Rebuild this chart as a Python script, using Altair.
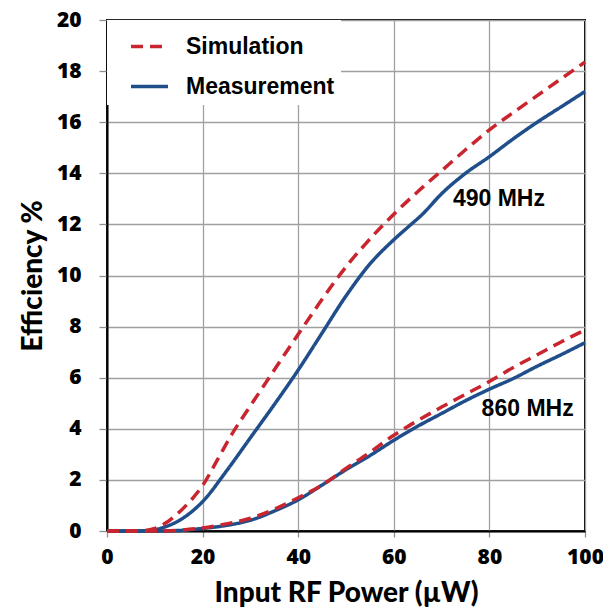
import altair as alt
import pandas as pd

series_names = ["Simulation", "Measurement"]
series_colors = ["#C9252F", "#1F4E8A"]

# 490 MHz, measurement
x_490_meas = [0, 5, 8, 10, 12, 15, 18, 20, 25, 30, 35, 40, 45, 50, 55, 60, 63, 66, 70, 75, 80, 85, 90, 95, 100]
y_490_meas = [0, 0, 0.01, 0.05, 0.15, 0.4, 0.8, 1.15, 2.35, 3.65, 4.95, 6.3, 7.75, 9.2, 10.45, 11.4, 11.9, 12.4, 13.2, 14.0, 14.65, 15.35, 16.0, 16.6, 17.2]

# 490 MHz, simulation
x_490_sim = [0, 5, 8, 10, 12, 15, 18, 20, 23, 26, 30, 34, 37, 40, 44, 48, 51, 54, 57, 60, 65, 70, 75, 80, 85, 90, 95, 100]
y_490_sim = [0, 0, 0.02, 0.1, 0.28, 0.72, 1.3, 1.78, 2.75, 3.75, 4.9, 6.02, 6.87, 7.7, 8.8, 9.85, 10.57, 11.22, 11.83, 12.4, 13.28, 14.1, 14.92, 15.7, 16.38, 17.04, 17.7, 18.35]

# 860 MHz, measurement
x_860_meas = [0, 10, 15, 20, 25, 30, 35, 40, 45, 50, 55, 60, 65, 70, 75, 80, 85, 90, 95, 100]
y_860_meas = [0, 0, 0.02, 0.1, 0.22, 0.42, 0.78, 1.22, 1.8, 2.4, 2.95, 3.55, 4.1, 4.6, 5.1, 5.55, 5.97, 6.45, 6.9, 7.37]

# 860 MHz, simulation
x_860_sim = [0, 10, 15, 20, 25, 30, 35, 40, 45, 50, 55, 60, 65, 70, 75, 80, 85, 90, 95, 100]
y_860_sim = [0, 0, 0.03, 0.12, 0.28, 0.5, 0.85, 1.3, 1.8, 2.45, 3.08, 3.75, 4.32, 4.85, 5.35, 5.85, 6.4, 6.9, 7.4, 7.87]

label_text = ["490 MHz", "860 MHz"]
label_x = [82.0, 88.0]
label_y = [13.0, 4.76]

x_ticks = [0, 20, 40, 60, 80, 100]
y_ticks = [0, 2, 4, 6, 8, 10, 12, 14, 16, 18, 20]

rows = []
for freq, series, xs, ys in [
    ("490", "Measurement", x_490_meas, y_490_meas),
    ("860", "Measurement", x_860_meas, y_860_meas),
    ("490", "Simulation", x_490_sim, y_490_sim),
    ("860", "Simulation", x_860_sim, y_860_sim),
]:
    for a, b in zip(xs, ys):
        rows.append({"x": a, "y": b, "series": series, "key": series + freq})
df = pd.DataFrame(rows)
labels_df = pd.DataFrame({"x": label_x, "y": label_y, "text": label_text})

xscale = alt.Scale(domain=[0, 100], nice=False)
yscale = alt.Scale(domain=[0, 20], nice=False)

label_style = dict(labelFont="Open Sans", labelFontSize=21, labelFontWeight=800, labelColor="black",
                   labelFlush=False,
                   titleFont="Lato", titleFontSize=28, titleFontWeight=900, titleColor="black")

lines = alt.Chart(df).mark_line(strokeWidth=3.5, interpolate="monotone").encode(
    x=alt.X("x:Q", scale=xscale,
            axis=alt.Axis(values=x_ticks, title="Input RF Power (µW)", tickSize=6,
                          labelPadding=9, titlePadding=12, **label_style)),
    y=alt.Y("y:Q", scale=yscale,
            axis=alt.Axis(values=y_ticks, title="Efficiency %", tickSize=8,
                          labelPadding=18, titlePadding=9, **label_style)),
    color=alt.Color("series:N", scale=alt.Scale(domain=series_names, range=series_colors),
                    legend=alt.Legend(title=None)),
    strokeDash=alt.StrokeDash("series:N", scale=alt.Scale(domain=series_names, range=[[12, 7], [1, 0]]),
                              legend=alt.Legend(title=None)),
    detail="key:N",
)

texts = alt.Chart(labels_df).mark_text(
    font="Liberation Sans", fontSize=23, fontWeight="bold", color="black",
    align="center", baseline="middle"
).encode(x=alt.X("x:Q", scale=xscale), y=alt.Y("y:Q", scale=yscale), text="text:N")

chart = alt.layer(lines, texts).properties(
    width=478, height=511,
    padding={"left": 99, "top": 12, "right": 18, "bottom": 80},
    autosize=alt.AutoSizeParams(type="none"),
).configure_view(
    stroke="black", strokeWidth=2
).configure_axis(
    domainColor="black", domainWidth=2,
    gridColor="#A0A0A0", gridWidth=1.3,
    tickColor="#909090", tickWidth=1.3,
).configure_legend(
    orient="none", legendX=0, legendY=0,
    fillColor="white", padding=6, symbolOffset=16,
    symbolType="stroke", symbolSize=1369, symbolStrokeWidth=3.5,
    labelFont="Liberation Sans", labelFontSize=23, labelFontWeight="bold", labelColor="black",
    labelOffset=16, rowPadding=7,
)

chart.save("out.html", embed_options={"renderer": "svg", "actions": False})
